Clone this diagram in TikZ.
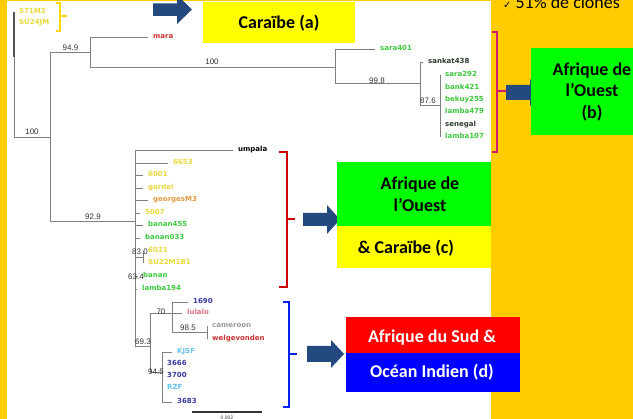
\documentclass[tikz,border=0pt]{standalone}
\usepackage{fontspec}
\setmainfont{Carlito}
\newfontfamily\leaffont{DejaVu Sans}
\newfontfamily\numfont{Liberation Sans}
\newfontfamily\symfont{DejaVu Sans}
\usepackage{tikz}

\begin{document}
\begin{tikzpicture}[x=1pt, y=-1pt,
  branch/.style={draw=colBranch, line width=0.9pt},
  leaf/.style={anchor=west, inner xsep=5pt, inner ysep=0pt, text height=5.5pt, text depth=1.5pt,
    font=\leaffont\bfseries\fontsize{7}{8}\selectfont},
  boot/.style={inner sep=0pt, text=colBoot, font=\numfont\fontsize{8}{9}\selectfont},
  boxnode/.style={inner sep=0pt, draw=none},
  boxtext/.style={align=center, inner sep=0pt, font=\bfseries\fontsize{18}{21.6}\selectfont},
  bracket/.style={line width=1.4pt}]

% Couleurs
\definecolor{colBg}{HTML}{FFCC00}
\definecolor{colArrow}{HTML}{24497E}
\definecolor{colBranch}{HTML}{808080}
\definecolor{colBranchDk}{HTML}{555555}
\definecolor{colBoot}{HTML}{333333}
\definecolor{colBoxGreen}{HTML}{00FF00}
\definecolor{colBoxYellow}{HTML}{FFFF00}
\definecolor{colBoxRed}{HTML}{FF0000}
\definecolor{colBoxBlue}{HTML}{0000FF}
\definecolor{colBrA}{HTML}{FFD400}
\definecolor{colBrB}{HTML}{D6186E}
\definecolor{colBrC}{HTML}{CC0000}
\definecolor{colBrD}{HTML}{0022EE}
\definecolor{leafYellow}{HTML}{EADA3C}
\definecolor{leafGreen}{HTML}{3CC83C}
\definecolor{leafOrange}{HTML}{E09A40}
\definecolor{leafRed}{HTML}{CC3030}
\definecolor{leafPink}{HTML}{E07080}
\definecolor{leafGray}{HTML}{9A9A9A}
\definecolor{leafNavy}{HTML}{3A3AA0}
\definecolor{leafSky}{HTML}{66C4EE}
\definecolor{leafDark}{HTML}{2D3B2D}

\useasboundingbox (0,0) rectangle (633,419);

% Fond
\fill[colBg] (0,0) rectangle (633,419);
\fill[white] (7,1) rectangle (491,419);

% Texte en haut a droite
\node[anchor=base west, inner sep=0pt, font=\fontsize{18}{20}\selectfont] (clones) at (503,9)
  {{\symfont\fontsize{10}{12}\selectfont ✓}\hspace{4pt}51\% de clones};

% Noeuds internes
\coordinate (r) at (14,137);
\coordinate (c50) at (50,137);
\coordinate (c90) at (90,52);
\coordinate (c335) at (335,67);
\coordinate (c420) at (420,83);
\coordinate (c440) at (440,105);
\coordinate (c135) at (135,221);
\coordinate (c143) at (143,257);
\coordinate (c150) at (150,346);
\coordinate (c172) at (172,313);
\coordinate (c207) at (207,332);
\coordinate (c162) at (162,372);

% Feuilles (haut)
\node[leaf, text=leafYellow] (s71) at (14,12) {S71M2};
\node[leaf, text=leafYellow] (su24) at (14,23) {SU24JM};
\node[leaf, text=leafRed] (mara) at (148,37) {mara};
\node[leaf, text=leafGreen] (sara401) at (375,49) {sara401};
\node[leaf, text=leafDark] (sankat) at (423,62) {sankat438};
\node[leaf, text=leafGreen] (sara292) at (440,75) {sara292};
\node[leaf, text=leafGreen] (bank421) at (440,88) {bank421};
\node[leaf, text=leafGreen] (bekuy) at (440,100) {bekuy255};
\node[leaf, text=leafGreen] (lamba479) at (440,112) {lamba479};
\node[leaf, text=leafDark] (senegal) at (440,125) {senegal};
\node[leaf, text=leafGreen] (lamba107) at (440,137) {lamba107};

% Feuilles (milieu)
\node[leaf, text=black] (umpala) at (233,150) {umpala};
\node[leaf, text=leafYellow] (l6653) at (168,163) {6653};
\node[leaf, text=leafYellow] (l6001) at (143,175) {6001};
\node[leaf, text=leafYellow] (gardel) at (143,188) {gardel};
\node[leaf, text=leafOrange] (georges) at (148,200) {georgesM3};
\node[leaf, text=leafYellow] (l5007) at (140,213) {5007};
\node[leaf, text=leafGreen] (banan455) at (143,225) {banan455};
\node[leaf, text=leafGreen] (banan033) at (140,238) {banan033};
\node[leaf, text=leafYellow] (l6031) at (143,251) {6031};
\node[leaf, text=leafYellow] (su22) at (143,263) {SU22M1B1};
\node[leaf, text=leafGreen] (banan) at (138,276) {banan};
\node[leaf, text=leafGreen] (lamba194) at (137,289) {lamba194};

% Feuilles (bas)
\node[leaf, text=leafNavy] (l1690) at (188,302) {1690};
\node[leaf, text=leafPink] (lulalo) at (182,313) {lulalo};
\node[leaf, text=leafGray] (cameroon) at (207,326) {cameroon};
\node[leaf, text=leafRed] (welge) at (207,339) {welgevonden};
\node[leaf, text=leafSky] (kjsf) at (172,352) {KJSF};
\node[leaf, text=leafNavy] (l3666) at (162,364) {3666};
\node[leaf, text=leafNavy] (l3700) at (162,376) {3700};
\node[leaf, text=leafSky] (rzf) at (162,388) {RZF};
\node[leaf, text=leafNavy] (l3683) at (172,402) {3683};

% Branches
\draw[branch] (r) |- (s71.west);
\draw[branch] (r) |- (su24.west);
\draw[branch, draw=colBranchDk, line width=1.2pt] (s71.west) -- ++(0,45);
\draw[branch] (r) -- (c50);
\draw[branch] (c50) |- (c90);
\draw[branch] (c50) |- (c135);
\draw[branch] (c90) |- (mara.west);
\draw[branch] (c90) |- (c335);
\draw[branch] (c335) |- (sara401.west);
\draw[branch] (c335) |- (c420);
\draw[branch] (c420) |- (sankat.west);
\draw[branch] (c420) |- (c440);
\foreach \l in {sara292,bank421,bekuy,lamba479,senegal,lamba107}
  \draw[branch] (c440) |- (\l.west);
\foreach \l in {umpala,l6653,l6001,gardel,georges,l5007,banan455,banan033,banan,lamba194}
  \draw[branch] (c135) |- (\l.west);
\draw[branch] (c135) |- (c143);
\draw[branch] (c143) |- (l6031.west);
\draw[branch] (c143) |- (su22.west);
\draw[branch] (c135) |- (c150);
\draw[branch] (c150) |- (c172);
\draw[branch] (c150) |- (c162);
\foreach \l in {l1690,lulalo}
  \draw[branch] (c172) |- (\l.west);
\draw[branch] (c172) |- (c207);
\foreach \l in {cameroon,welge}
  \draw[branch] (c207) |- (\l.west);
\foreach \l in {kjsf,l3666,l3700,rzf,l3683}
  \draw[branch] (c162) |- (\l.west);

% Valeurs de bootstrap
\node[boot] (b100a) at (32,132) {100};
\node[boot] (b949) at (70.5,48) {94.9};
\node[boot] (b100b) at (212,62) {100};
\node[boot] (b998) at (377,81) {99.8};
\node[boot] (b876) at (428,101) {87.6};
\node[boot] (b929) at (93,217) {92.9};
\node[boot] (b830) at (140,252) {83.0};
\node[boot] (b634) at (136,277) {63.4};
\node[boot] (b693) at (143,342) {69.3};
\node[boot] (b70) at (161,312) {70};
\node[boot] (b985) at (188,328) {98.5};
\node[boot] (b945) at (156,372) {94.5};

% Echelle
\coordinate (sbL) at (192,412);
\coordinate (sbR) at (262,412);
\draw[colBoot, line width=1.5pt] (sbL) -- (sbR);
\node[boot, anchor=north, font=\numfont\fontsize{5}{6}\selectfont] (sbT) at (227,416) {0.002};

% Accolades
\draw[bracket, colBrA] (56,3) -- (60,3) -- (60,31) -- (56,31);
\draw[bracket, colBrA] (60,16) -- (67,16);
\draw[bracket, colBrB] (492,32) -- (497,32) -- (497,152) -- (492,152);
\draw[bracket, colBrB] (497,91) -- (506,91);
\draw[bracket, colBrC] (279,152) -- (287,152) -- (287,287) -- (279,287);
\draw[bracket, colBrC] (287,219) -- (295,219);
\draw[bracket, colBrD] (283,302) -- (289,302) -- (289,407) -- (283,407);
\draw[bracket, colBrD] (289,354) -- (297,354);

% Fleches
\fill[colArrow] (153,3.5) -- (177,3.5) -- (177,-5) -- (192,9.5) -- (177,24) -- (177,16) -- (153,16) -- cycle;
\fill[colArrow] (506,85) -- (530,85) -- (530,79) -- (543,92.5) -- (530,106) -- (530,100) -- (506,100) -- cycle;
\fill[colArrow] (303,213) -- (327,213) -- (327,205) -- (340,219.5) -- (327,234) -- (327,226) -- (303,226) -- cycle;
\fill[colArrow] (307,346) -- (331,346) -- (331,340) -- (344,354) -- (331,368) -- (331,362) -- (307,362) -- cycle;

% Boites
\node[boxnode, fill=colBoxYellow, minimum width=152pt, minimum height=41pt] (boxA) at (279,22.5) {};
\node[boxtext] (txtA) at (279,23) {Caraïbe (a)};

\node[boxnode, fill=colBoxGreen, minimum width=102pt, minimum height=87pt] (boxB) at (582,91.5) {};
\node[boxtext] (txtB) at (592,92) {Afrique de\\l’Ouest\\(b)};

\node[boxnode, fill=colBoxGreen, minimum width=154pt, minimum height=64pt] (boxC1) at (414,194) {};
\node[boxnode, fill=colBoxYellow, minimum width=154pt, minimum height=42pt] (boxC2) at (414,247) {};
\node[boxtext] (txtC1) at (420,194) {Afrique de\\l’Ouest};
\node[boxtext] (txtC2) at (406,248) {\& Caraïbe (c)};

\node[boxnode, fill=colBoxRed, minimum width=174pt, minimum height=36pt] (boxD1) at (433,335) {};
\node[boxnode, fill=colBoxBlue, minimum width=174pt, minimum height=39pt] (boxD2) at (433,372.5) {};
\node[boxtext, text=white] (txtD1) at (432,338) {Afrique du Sud \&};
\node[boxtext, text=white] (txtD2) at (432,372) {Océan Indien (d)};

\end{tikzpicture}
\end{document}
